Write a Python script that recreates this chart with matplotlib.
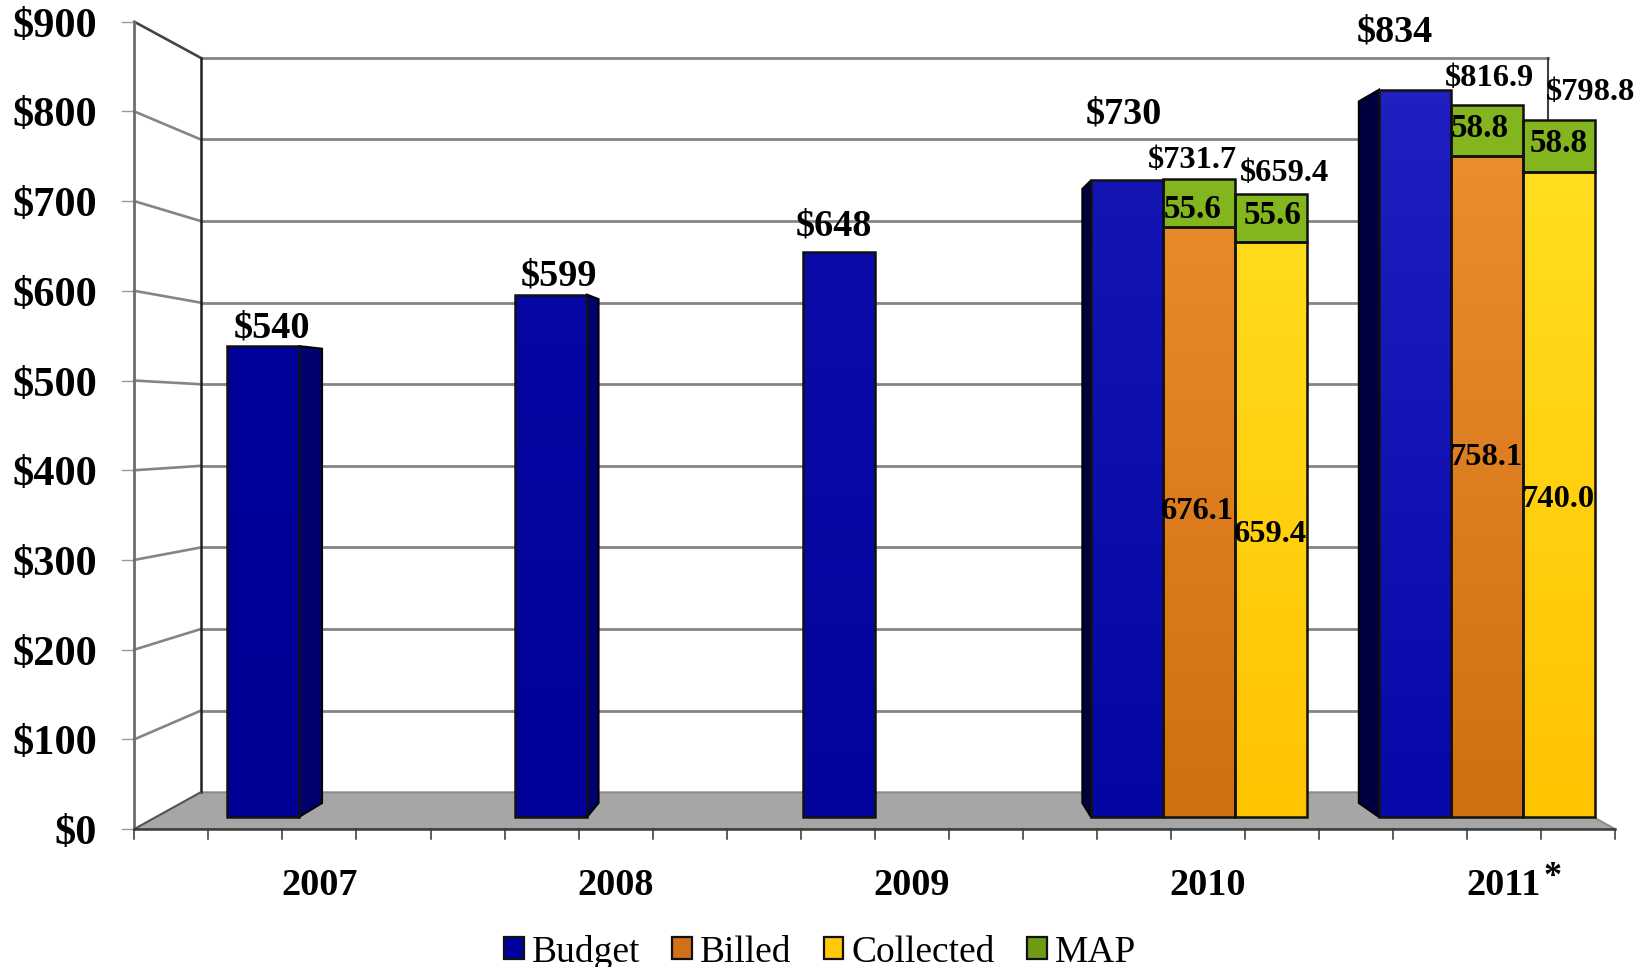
import numpy as np
import matplotlib
matplotlib.use('Agg')
import matplotlib.pyplot as plt
from matplotlib.colors import to_rgb
from matplotlib.patches import Patch, Polygon
from matplotlib.transforms import Affine2D

years = ['2007', '2008', '2009', '2010', '2011']
budget = [540, 599, 648, 730, 834]
budget_labels = ['$540', '$599', '$648', '$730', '$834']

# only the last two years have the other series
split_years = [3, 4]
billed = [676.1, 758.1]
collected = [659.4, 740.0]
map_billed = [55.6, 58.8]
map_collected = [55.6, 58.8]
billed_labels = ['676.1', '758.1']
collected_labels = ['659.4', '740.0']
map_labels = ['55.6', '58.8']
billed_totals = ['$731.7', '$816.9']
collected_totals = ['$659.4', '$798.8']

y_ticks = [0, 100, 200, 300, 400, 500, 600, 700, 800, 900]
y_tick_labels = ['$0', '$100', '$200', '$300', '$400', '$500', '$600', '$700', '$800', '$900']
legend_names = ['Budget', 'Billed', 'Collected', 'MAP']

W, H = 1651, 967
BAR_W = 0.25
FONT = 'Liberation Serif'

fig = plt.figure(figsize=(W / 100, H / 100), dpi=100)
ax = fig.add_axes([0, 0, 1, 1])
# one year is 288 px, one dollar is 0.872 px, first bar centre at 263, baseline at 817
xlim = (-263 / 288, (W - 263) / 288)
ylim = ((817 - H) / 0.872, 817 / 0.872)
ax.axis('off')

# the chart frame is drawn in pixels from the top left
px = Affine2D().scale(1, -1).translate(0, H)


def front_y(v):
    return 829 - 0.8969 * v


def back_y(v):
    return 792.3 - 0.8161 * v


def blend(a, b, t):
    a, b = np.array(to_rgb(a)), np.array(to_rgb(b))
    return a + (b - a) * t


def draw_frame():
    floor = Polygon([(134.4, 829), (200.7, 792.3), (1548, 792.3), (1615, 829)], closed=True,
                    facecolor='#a6a6a6', edgecolor='#8a8a8a', lw=1.4, transform=px, zorder=1)
    ax.add_patch(floor)
    for v in y_ticks:
        if v > 0:
            color = '#444444' if v == 900 else '#858585'
            ax.plot([134.4, 200.7], [front_y(v), back_y(v)], color=color, lw=1.9, transform=px, zorder=1)
            ax.plot([200.7, 1548], [back_y(v), back_y(v)], color='#858585', lw=2.0, transform=px, zorder=1)
        ax.plot([122, 134.4], [front_y(v), front_y(v)], color='#999999', lw=1.0, transform=px, zorder=1)
        ax.text(97, front_y(v) + 15, y_tick_labels[y_ticks.index(v)], ha='right', va='baseline',
                fontsize=30.5, fontweight='bold', family=FONT, transform=px)
    ax.plot([134.4, 134.4], [front_y(900), 829], color='#6e6e6e', lw=2.0, transform=px, zorder=2)
    ax.plot([200.7, 200.7], [back_y(900), 792.3], color='#202020', lw=1.8, transform=px, zorder=2)
    ax.plot([1548, 1548], [back_y(900), 792.3], color='#404040', lw=1.5, transform=px, zorder=1)
    ax.plot([134.4, 200.7], [829, 792.3], color='#555555', lw=1.4, transform=px, zorder=2)
    ax.plot([134.4, 1615], [829, 829], color='#3a3a3a', lw=1.8, transform=px, zorder=2)
    for tick in np.linspace(134.4, 1615, 21):
        ax.plot([tick, tick], [829, 839], color='#333333', lw=1.1, transform=px, zorder=1)
    for i, year in enumerate(years):
        ax.text(319.7 + 296 * i, 895, year, ha='center', va='baseline', fontsize=27.5,
                fontweight='bold', family=FONT, transform=px)
    ax.text(1553, 886, '*', ha='center', va='baseline', fontsize=26, fontweight='bold',
            family=FONT, transform=px)


def add_side(x_edge, top, color):
    # side of the bar runs towards one vanishing point
    dx = 0.04 * (2.125 - x_edge)
    pts = [(x_edge, 0), (x_edge + dx, 0 + 0.0353 * 455),
           (x_edge + dx, top + 0.0353 * (455 - top)), (x_edge, top)]
    ax.add_patch(Polygon(pts, closed=True, facecolor=color, edgecolor='black', lw=1.5, zorder=3))


def gradient_bar(x, bottom, height, low, high, scale_top):
    bar = ax.bar(x, height, bottom=bottom, width=BAR_W, facecolor='none', edgecolor='#111111',
                 lw=1.8, zorder=5)[0]
    ts = np.linspace(bottom, bottom + height, 64) / scale_top
    colors = np.array([blend(low, high, t) for t in ts])[:, None, :]
    im = ax.imshow(colors, extent=[x - BAR_W / 2, x + BAR_W / 2, bottom, bottom + height],
                   origin='lower', aspect='auto', zorder=4)
    im.set_clip_path(bar)


def draw_bars():
    for i, v in enumerate(budget):
        t = (v - 540) / (834 - 540)
        low = blend('#000096', '#0808a8', t)
        high = blend('#00009c', '#2020c0', t)
        gradient_bar(i, 0, v, low, high, v)
        if i < 2:
            add_side(i + BAR_W / 2, v, '#00006e')
        elif i > 2:
            add_side(i - BAR_W / 2, v, '#000040')

    for k, i in enumerate(split_years):
        top_b = billed[k] + map_billed[k]
        top_c = collected[k] + map_collected[k]
        gradient_bar(i + BAR_W, 0, billed[k], '#cf6f12', '#ed8e30', 820)
        gradient_bar(i + BAR_W, billed[k], map_billed[k], '#80b41e', '#84b61e', top_b)
        gradient_bar(i + 2 * BAR_W, 0, collected[k], '#ffc300', '#ffe022', 800)
        gradient_bar(i + 2 * BAR_W, collected[k], map_collected[k], '#80b41e', '#84b61e', top_c)


def draw_labels():
    # (centre x, baseline y) in pixels
    budget_pos = [(272, 338), (559, 286), (833.5, 236), (1124, 124), (1395, 42)]
    for text, (x, y) in zip(budget_labels, budget_pos):
        ax.text(x, y, text, ha='center', va='baseline', fontsize=27.5, fontweight='bold',
                family=FONT, transform=px, zorder=8)

    total_pos = [(1192, 168), (1490, 86)]
    for text, (x, y) in zip(billed_totals, total_pos):
        ax.text(x, y, text, ha='center', va='baseline', fontsize=23.4, fontweight='bold',
                family=FONT, transform=px, zorder=8)
    total_pos = [(1284.5, 181), (1591, 100)]
    for text, (x, y) in zip(collected_totals, total_pos):
        ax.text(x, y, text, ha='center', va='baseline', fontsize=23.4, fontweight='bold',
                family=FONT, transform=px, zorder=8)

    map_pos = [[(1193, 218), (1273, 224)], [(1480, 137), (1559, 152)]]
    for k, text in enumerate(map_labels):
        for x, y in map_pos[k]:
            ax.text(x, y, text, ha='center', va='baseline', fontsize=23.8, fontweight='bold',
                    family=FONT, transform=px, zorder=8)

    inner_pos = [(1197, 519), (1486, 465)]
    for text, (x, y) in zip(billed_labels, inner_pos):
        ax.text(x, y, text, ha='center', va='baseline', fontsize=23.4, fontweight='bold',
                family=FONT, transform=px, zorder=8)
    inner_pos = [(1270, 542), (1558, 507)]
    for text, (x, y) in zip(collected_labels, inner_pos):
        ax.text(x, y, text, ha='center', va='baseline', fontsize=23.4, fontweight='bold',
                family=FONT, transform=px, zorder=8)


def draw_legend():
    colors = ['#00009c', '#d2701a', '#ffc808', '#6e9a14']
    handles = [Patch(facecolor=c, edgecolor='#111111', lw=1.6, label=n)
               for c, n in zip(colors, legend_names)]
    ax.legend(handles=handles, ncol=4, frameon=False, loc='center', bbox_to_anchor=(820 / W, 1 - 952 / H),
              prop={'family': FONT, 'size': 27}, handlelength=0.53, handleheight=0.53,
              handletextpad=0.22, columnspacing=0.85, borderpad=0, borderaxespad=0)


draw_frame()
draw_bars()
draw_labels()
draw_legend()
ax.set_xlim(*xlim)
ax.set_ylim(*ylim)
fig.savefig('out.png', dpi=100)
